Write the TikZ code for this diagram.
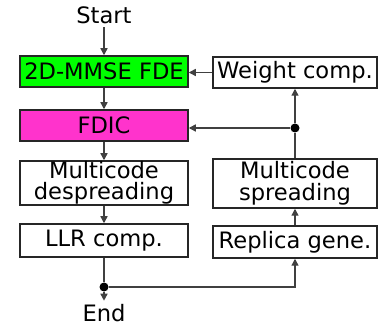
\documentclass[tikz,border=0pt]{standalone}
\usepackage{fontspec}
\setmainfont{DejaVu Sans}
\usetikzlibrary{arrows.meta}
\definecolor{fdegreen}{RGB}{0,255,0}
\definecolor{icpink}{RGB}{255,51,204}
\begin{document}
\begin{tikzpicture}[x=1pt, y=-1pt,
  font=\fontsize{22.6}{21.5}\selectfont,
  blk/.style={draw=black!85, line width=1.5pt, inner sep=0pt, align=center,
    minimum height=31pt},
  lblk/.style={blk, minimum width=168pt},
  rblk/.style={blk, minimum width=164pt},
  flow/.style={draw=black!75, line width=1.4pt,
    -{Triangle[length=7pt,width=7pt]}},
  link/.style={draw=black!75, line width=1.4pt},
  jdot/.style={circle, fill=black, inner sep=0pt, minimum size=9pt}]
\useasboundingbox (0,0) rectangle (378,326);
% left column: receiver chain
\node (start) at (104,15) {Start};
\node[lblk, fill=fdegreen] (mmse) at (104,71.5) {2D-MMSE FDE};
\node[lblk, fill=icpink] (fdic) at (104,125.5) {FDIC};
\node[lblk, minimum height=44pt] (desp) at (104,183) {Multicode\\despreading};
\node[lblk, minimum height=33pt] (llr) at (104,240.5) {LLR comp.};
\node (end) at (104,313) {End};
% right column: replica loop
\node[rblk] (weight) at (295,72.5) {Weight comp.};
\node[rblk, minimum height=49pt] (spread) at (295,183.5) {Multicode\\spreading};
\node[rblk, minimum height=32pt] (replica) at (295,242) {Replica gene.};
% branch points
\node[jdot] (split) at (104,287) {};
\node[jdot] (fork) at (295,128) {};
% connectors
\draw[flow] (start) -- (mmse);
\draw[flow] (mmse) -- (fdic);
\draw[flow] (fdic) -- (desp);
\draw[flow] (desp) -- (llr);
\draw[link] (llr) -- (split);
\draw[flow] (split) -- (end);
\draw[flow] (split) -| (replica);
\draw[flow] (replica) -- (spread);
\draw[link] (spread) -- (fork);
\draw[flow] (fork) -- (weight);
\draw[flow] (fork) -- (fork -| fdic.east);
\draw[flow] (weight) -- (weight -| mmse.east);
\end{tikzpicture}
\end{document}
